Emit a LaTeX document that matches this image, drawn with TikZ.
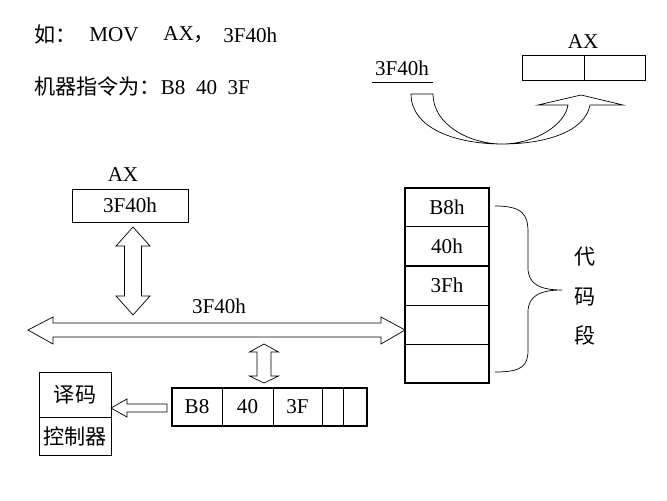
\documentclass[tikz,border=0pt]{standalone}
\usepackage{fontspec}
\setmainfont{Liberation Serif}
\newfontfamily\cjk{Noto Sans CJK SC}

\begin{document}
\begin{tikzpicture}[x=0.03cm, y=-0.03cm, line width=0.6pt,
    txt/.style={font=\fontsize{18}{20}\selectfont, inner sep=0pt},
    cell/.style={draw, txt, minimum height=1.17cm, minimum width=2.52cm},
    qcell/.style={draw, txt, minimum height=1.14cm}]
    \useasboundingbox (0,0) rectangle (667,500);

    % instruction example
    \node[txt, anchor=west] (ru) at (34,35) {\cjk 如：};
    \node[txt, anchor=west] (mov) at (89,35) {MOV};
    \node[txt, anchor=west] (axt) at (163,35) {AX\cjk ，};
    \node[txt, anchor=west] (imm) at (223,35) {3F40h};
    \node[txt, anchor=west] (code) at (34,86) {{\cjk 机器指令为：}B8\hspace{0.5em}40\hspace{0.5em}3F};

    % top: 3F40h moved into AX
    \node[txt] (src) at (402,68) {3F40h};
    \draw (372,82) -- (433,82);
    \node[draw, minimum width=1.86cm, minimum height=0.75cm] (axl) at (553,67.5) {};
    \node[draw, minimum width=1.83cm, minimum height=0.75cm] (axr) at (614.5,67.5) {};
    \node[txt] (axname) at (583,42) {AX};
    \draw (411,94) -- (433,94) .. controls (433,125) and (470,144) .. (502,144)
        .. controls (535,144) and (565,125) .. (568,105) -- (538,105) -- (581,95)
        -- (623,105) -- (590,105) .. controls (585,132) and (545,144) .. (502,144)
        .. controls (455,144) and (411,128) .. (411,94) -- cycle;

    % register AX
    \node[txt] (axlab) at (123,175) {AX};
    \node[draw, txt, minimum width=3.48cm, minimum height=0.99cm] (ax) at (130,205.5) {3F40h};
    \draw (133,227) -- (150,246) -- (141.5,246) -- (141.5,296) -- (150,296) -- (133,315)
        -- (116,296) -- (124.5,296) -- (124.5,246) -- (116,246) -- cycle;

    % bus
    \node[txt] (buslab) at (219,306) {3F40h};
    \draw (28,330) -- (53,317) -- (53,323) -- (381,323) -- (381,317) -- (405,330)
        -- (381,344) -- (381,337) -- (53,337) -- (53,344) -- cycle;
    \draw (264,344) -- (278.5,352) -- (271,352) -- (271,376) -- (278.5,376) -- (264,383)
        -- (249.5,376) -- (257,376) -- (257,352) -- (249.5,352) -- cycle;

    % memory (code segment)
    \foreach \i/\y/\t in {1/207/B8h, 2/246/40h, 3/285.5/3Fh, 4/324.5/, 5/363.5/}
        \node[cell] (m\i) at (447,\y) {\t};
    \draw[line width=1.6pt] (405,188) rectangle (489,383);
    \draw (495,206) .. controls (522,206) and (528,214) .. (528,232) -- (528,268)
        .. controls (528,284) and (540,290) .. (562,290)
        .. controls (540,290) and (528,296) .. (528,312) -- (528,350)
        .. controls (528,366) and (522,372) .. (495,372);
    \node[txt] (dai) at (585,257) {\cjk 代};
    \node[txt] (ma) at (585,297) {\cjk 码};
    \node[txt] (duan) at (585,335) {\cjk 段};

    % instruction queue
    \node[qcell, minimum width=1.5cm] (q1) at (197,407) {B8};
    \node[qcell, minimum width=1.53cm] (q2) at (247.5,407) {40};
    \node[qcell, minimum width=1.47cm] (q3) at (297.5,407) {3F};
    \node[qcell, minimum width=0.63cm] (q4) at (332.5,407) {};
    \node[qcell, minimum width=0.72cm] (q5) at (355,407) {};
    \draw[line width=1.6pt] (172,388) rectangle (367,426);

    % decoder / controller
    \node[draw, txt, minimum width=2.16cm, minimum height=1.35cm] (dec) at (75,394.5) {\cjk 译码};
    \node[draw, txt, minimum width=2.16cm, minimum height=1.14cm] (ctl) at (75,436) {\cjk 控制器};
    \draw (111,408) -- (127,399) -- (127,404) -- (167,404) -- (167,412) -- (127,412)
        -- (127,417) -- cycle;
\end{tikzpicture}
\end{document}
